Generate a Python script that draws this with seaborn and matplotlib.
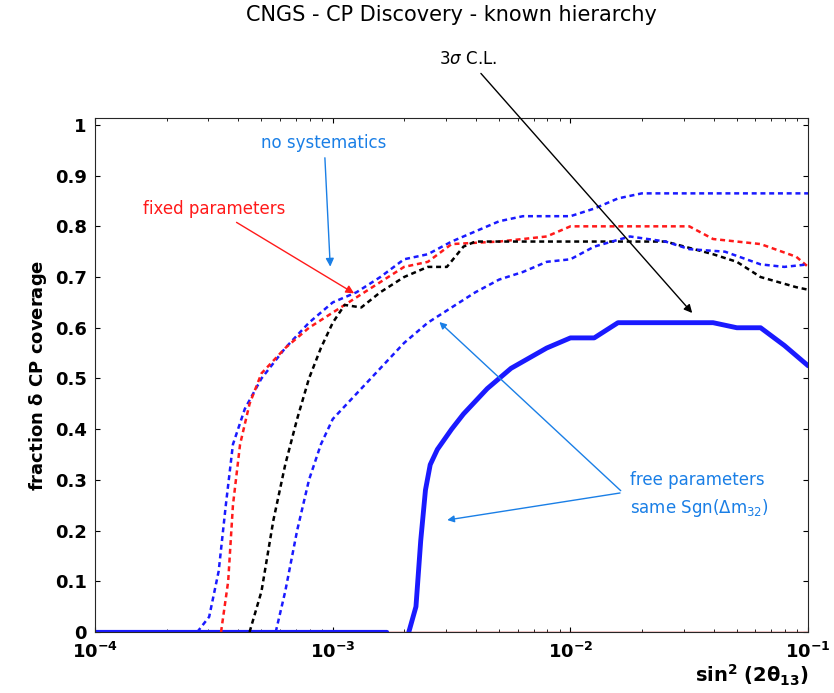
import numpy as np
import pandas as pd
import matplotlib
matplotlib.use("Agg")
import matplotlib.pyplot as plt
import seaborn as sns

sns.set_style("ticks")
plt.rcParams['font.family'] = ['DejaVu Sans']
plt.rcParams['text.color'] = 'black'
plt.rcParams['axes.labelcolor'] = 'black'
plt.rcParams['xtick.color'] = 'black'
plt.rcParams['ytick.color'] = 'black'

# (log10 sin^2 2theta13, fraction)
nosys_lx = [-3.57,-3.52,-3.48,-3.45,-3.42,-3.37,-3.3,-3.2,-3.1,-3.0,-2.9,-2.8,-2.7,-2.6,-2.5,-2.4,-2.3,-2.2,-2.0,-1.9,-1.8,-1.7,-1.0]
nosys_y  = [0,0.03,0.12,0.25,0.37,0.44,0.5,0.56,0.61,0.65,0.67,0.70,0.735,0.745,0.77,0.79,0.81,0.82,0.82,0.835,0.855,0.865,0.865]
fixed_lx = [-3.47,-3.44,-3.42,-3.39,-3.35,-3.3,-3.2,-3.1,-3.0,-2.9,-2.8,-2.7,-2.6,-2.5,-2.3,-2.1,-2.0,-1.5,-1.4,-1.2,-1.05,-1.0]
fixed_y  = [0,0.1,0.25,0.37,0.45,0.51,0.56,0.6,0.63,0.66,0.69,0.72,0.73,0.765,0.77,0.78,0.80,0.80,0.775,0.765,0.74,0.72]
black_lx = [-3.35,-3.3,-3.25,-3.2,-3.15,-3.1,-3.05,-3.0,-2.95,-2.88,-2.8,-2.7,-2.6,-2.52,-2.45,-2.4,-2.0,-1.6,-1.4,-1.3,-1.2,-1.05,-1.0]
black_y  = [0,0.08,0.22,0.33,0.42,0.5,0.56,0.61,0.645,0.64,0.67,0.7,0.72,0.72,0.76,0.77,0.77,0.77,0.745,0.73,0.70,0.68,0.675]
free_lx  = [-3.24,-3.2,-3.15,-3.1,-3.05,-3.0,-2.9,-2.8,-2.7,-2.6,-2.5,-2.4,-2.3,-2.2,-2.1,-2.0,-1.9,-1.75,-1.6,-1.5,-1.35,-1.2,-1.1,-1.0]
free_y   = [0,0.08,0.2,0.3,0.37,0.42,0.47,0.52,0.57,0.61,0.64,0.67,0.695,0.71,0.73,0.735,0.76,0.78,0.77,0.755,0.75,0.725,0.72,0.725]
sig3_lx  = [-2.68,-2.65,-2.63,-2.61,-2.59,-2.56,-2.5,-2.45,-2.35,-2.25,-2.1,-2.0,-1.9,-1.8,-1.6,-1.4,-1.3,-1.2,-1.1,-1.0]
sig3_y   = [0,0.05,0.18,0.28,0.33,0.36,0.40,0.43,0.48,0.52,0.56,0.58,0.58,0.61,0.61,0.61,0.60,0.60,0.565,0.525]

fig = plt.figure(figsize=(8.34, 6.93), dpi=100)
ax = fig.add_axes([0.114, 0.088, 0.855, 0.742])

def line(lx, y, **kw):
    df = pd.DataFrame({"x": 10.0 ** np.array(lx), "y": y})
    sns.lineplot(data=df, x="x", y="y", ax=ax, estimator=None, sort=False, **kw)

ax.set_xscale("log")
line([-4, -1], [0, 0], color="#cc0000", lw=1)
line([-4, -2.77], [0, 0], color="#1a1aff", lw=3)
line(nosys_lx, nosys_y, color="#1a1aff", lw=1.8, linestyle=(0, (2, 1.5)))
line(fixed_lx, fixed_y, color="#ff1a1a", lw=1.8, linestyle=(0, (2, 1.5)))
line(black_lx, black_y, color="black", lw=1.8, linestyle=(0, (2, 1.5)))
line(free_lx, free_y, color="#1a1aff", lw=1.8, linestyle=(0, (2, 1.5)))
line(sig3_lx, sig3_y, color="#1a1aff", lw=3.5)

ax.set_xlim(1e-4, 1e-1)
ax.set_ylim(0, 1.014)
ax.set_yticks(np.arange(0, 1.01, 0.1))
ax.set_yticklabels(["0"] + [f"{v:.1f}" for v in np.arange(0.1, 0.95, 0.1)] + ["1"])
ax.tick_params(labelsize=13, direction="in", top=True, right=True, which="both")
ax.tick_params(axis="y", pad=6)
ax.tick_params(axis="x", pad=7)
for lab in ax.get_xticklabels() + ax.get_yticklabels():
    lab.set_fontweight("bold")
ax.set_xlabel(r"$\mathbf{sin^2\ (2\theta_{13})}$", fontsize=14)
ax.set_ylabel(r"fraction $\mathbf{\delta}$ CP coverage", fontsize=13, fontweight="bold")
ax.xaxis.set_label_coords(1.0, -0.06, transform=ax.transAxes)
ax.xaxis.label.set_horizontalalignment("right")
ax.set_title("CNGS - CP Discovery - known hierarchy", fontsize=15, pad=70)

cb = "#1a7fe6"
ax.annotate("no systematics", xy=(10**-3.01, 0.715), xytext=(10**-3.3, 0.955),
            color=cb, fontsize=12, arrowprops=dict(arrowstyle="-|>", color=cb, lw=1))
ax.annotate("fixed parameters", xy=(10**-2.9, 0.665), xytext=(10**-3.8, 0.825),
            color="#ff1a1a", fontsize=12, arrowprops=dict(arrowstyle="-|>", color="#ff1a1a", lw=1))
ax.annotate("", xy=(10**-2.56, 0.615), xytext=(10**-1.78, 0.275),
            arrowprops=dict(arrowstyle="-|>", color=cb, lw=1))
ax.annotate("", xy=(10**-2.53, 0.22), xytext=(10**-1.78, 0.275),
            arrowprops=dict(arrowstyle="-|>", color=cb, lw=1))
ax.text(10**-1.75, 0.27, "free parameters\nsame Sgn($\\Delta$m$_{32}$)", color=cb,
        fontsize=12, va="center", ha="left", linespacing=1.5)
ax.annotate("3$\\sigma$ C.L.", xy=(10**-1.48, 0.625), xytext=(10**-2.43, 1.12),
            fontsize=12, ha="center", annotation_clip=False,
            arrowprops=dict(arrowstyle="-|>", color="black", lw=1))

fig.savefig("out.png", dpi=100)
